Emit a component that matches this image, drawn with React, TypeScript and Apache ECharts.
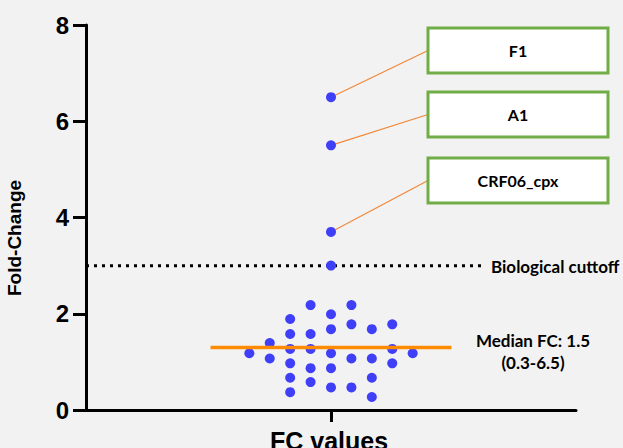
import React, { useEffect, useRef } from "react";
import * as echarts from "echarts";

// Column position (swarm offset) and fold-change of each sample
const fcX = [-4, -3, -3, -2, -2, -2, -2, -2, -2, -1, -1, -1, -1, -1, 0, 0, 0, 0, 0, 0, 0, 0, 0, 1, 1, 1, 1, 2, 2, 2, 2, 3, 3, 3, 4];
const fcY = [1.18, 1.39, 1.07, 1.89, 1.58, 1.27, 0.97, 0.67, 0.37, 2.18, 1.58, 1.27, 0.87, 0.58, 6.5, 5.5, 3.7, 3.0, 1.99, 1.68, 1.18, 0.87, 0.47, 2.18, 1.78, 1.07, 0.47, 1.68, 1.07, 0.67, 0.27, 1.78, 1.27, 0.97, 1.18];
const yTicks = [0, 2, 4, 6, 8];
const medianDrawn = 1.3;
const medianExtent = [-5.9, 5.9];
const cutoffValue = 3;
const cutoffExtent = [-12, 7.45];
const labelNames = ["F1", "A1", "CRF06_cpx"];
const labelValues = [6.5, 5.5, 3.7];
const medianText = ["Median FC: 1.5", "(0.3-6.5)"];

const BOLD_FONT = "Lato, 'Open Sans', sans-serif";
const ARIAL = "Arial, 'Liberation Sans', sans-serif";

export default function App() {
  const ref = useRef<HTMLDivElement>(null);
  useEffect(() => {
    if (!ref.current) return;
    const chart = echarts.init(ref.current, undefined, { renderer: "svg" });
    const option: any = {
      animation: false,
      backgroundColor: "#f2f2f2",
      grid: { left: 86, right: 47, top: 25, bottom: 38 },
      xAxis: {
        type: "value",
        min: -12,
        max: 12,
        axisLine: { show: true, onZero: false, lineStyle: { color: "#000", width: 3 } },
        axisTick: { show: true, customValues: [0], length: 12, lineStyle: { color: "#000", width: 3 } },
        axisLabel: { show: false },
        splitLine: { show: false },
      },
      yAxis: {
        type: "value",
        min: yTicks[0],
        max: yTicks[yTicks.length - 1],
        interval: 2,
        axisLine: { show: true, onZero: false, lineStyle: { color: "#000", width: 3 } },
        axisTick: { show: true, length: 13, lineStyle: { color: "#000", width: 3 } },
        axisLabel: { color: "#000", fontSize: 24, fontWeight: "bold", fontFamily: ARIAL, margin: 17 },
        splitLine: { show: false },
      },
      series: [
        {
          type: "scatter",
          data: fcX.map((x, i) => [x, fcY[i]]),
          symbolSize: 10,
          itemStyle: { color: "#3f3ff7", opacity: 1 },
          z: 5,
        },
        {
          type: "line",
          data: [[medianExtent[0], medianDrawn], [medianExtent[1], medianDrawn]],
          symbol: "none",
          lineStyle: { color: "#ff8c00", width: 3.5 },
          z: 6,
        },
        {
          type: "line",
          data: [[cutoffExtent[0], cutoffValue], [cutoffExtent[1], cutoffValue]],
          symbol: "none",
          lineStyle: { color: "#000", width: 3, type: [3, 5] },
          z: 4,
        },
      ],
    };
    chart.setOption(option);

    const boxTops = [28, 92, 158];
    const boxLeft = 428;
    const boxW = 180;
    const boxH = 45;
    const graphics: any[] = [];
    labelNames.forEach((name, i) => {
      const p = chart.convertToPixel({ seriesIndex: 0 }, [0, labelValues[i]]) as number[];
      const ty = boxTops[i] + boxH / 2;
      graphics.push({
        type: "line",
        shape: { x1: p[0], y1: p[1], x2: boxLeft, y2: ty },
        style: { stroke: "#f0883a", lineWidth: 1.2 },
        z: 3,
      });
      graphics.push({
        type: "rect",
        shape: { x: boxLeft, y: boxTops[i], width: boxW, height: boxH },
        style: { fill: "#fff", stroke: "#70ad47", lineWidth: 3 },
        z: 10,
      });
      graphics.push({
        type: "text",
        x: boxLeft + boxW / 2,
        y: ty,
        style: { text: name, fill: "#000", font: `bold 16px ${BOLD_FONT}`, align: "center", verticalAlign: "middle" },
        z: 11,
      });
    });
    const cut = chart.convertToPixel({ yAxisIndex: 0 }, cutoffValue) as number;
    graphics.push({
      type: "text",
      x: 491,
      y: cut + 1,
      style: { text: "Biological cuttoff", fill: "#000", font: `bold 17px ${BOLD_FONT}`, align: "left", verticalAlign: "middle" },
    });
    graphics.push({
      type: "text",
      x: 533,
      y: 340,
      style: { text: medianText[0], fill: "#000", font: `bold 17px ${BOLD_FONT}`, align: "center", verticalAlign: "middle" },
    });
    graphics.push({
      type: "text",
      x: 533,
      y: 362,
      style: { text: medianText[1], fill: "#000", font: `bold 17px ${BOLD_FONT}`, align: "center", verticalAlign: "middle" },
    });
    graphics.push({
      type: "text",
      x: 14,
      y: 238,
      rotation: Math.PI / 2,
      style: { text: "Fold-Change", fill: "#000", font: `bold 19px ${ARIAL}`, align: "center", verticalAlign: "middle" },
    });
    graphics.push({
      type: "text",
      x: 329,
      y: 428,
      style: { text: "FC values", fill: "#000", font: `bold 25px ${ARIAL}`, align: "center", verticalAlign: "top" },
    });
    chart.setOption({ graphic: graphics });
    return () => chart.dispose();
  }, []);
  return <div ref={ref} style={{ position: "fixed", left: 0, top: 0, width: 623, height: 448 }} />;
}
